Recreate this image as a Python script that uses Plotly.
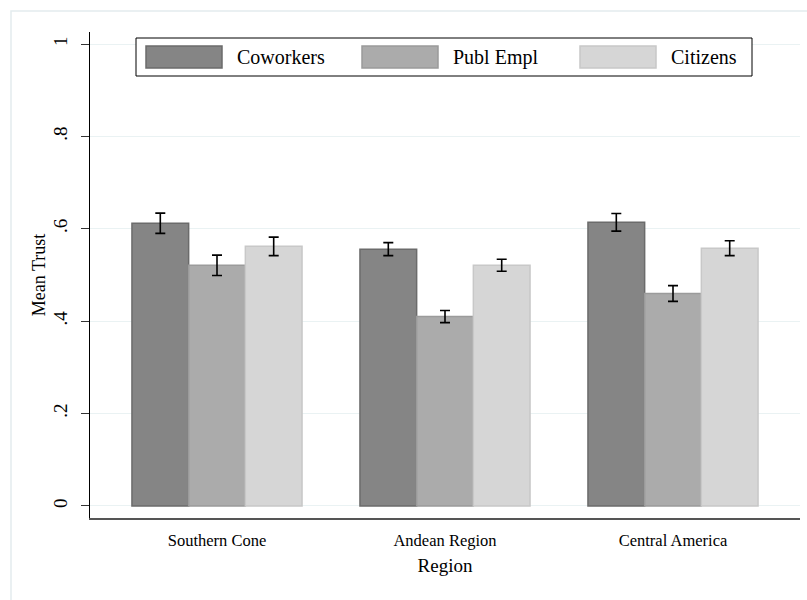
import plotly.graph_objects as go

regions = ["Southern Cone", "Andean Region", "Central America"]
series_names = ["Coworkers", "Publ Empl", "Citizens"]
means = {
    "Coworkers": [0.612, 0.556, 0.614],
    "Publ Empl": [0.521, 0.410, 0.460],
    "Citizens": [0.562, 0.521, 0.558],
}
ci_half = {
    "Coworkers": [0.022, 0.014, 0.019],
    "Publ Empl": [0.022, 0.013, 0.017],
    "Citizens": [0.020, 0.013, 0.016],
}
y_tickvals = [0, 0.2, 0.4, 0.6, 0.8, 1.0]
y_ticktext = ["0", ".2", ".4", ".6", ".8", "1"]

fills = {"Coworkers": "#858585", "Publ Empl": "#ababab", "Citizens": "#d6d6d6"}
edges = {"Coworkers": "#6b6b6b", "Publ Empl": "#9b9b9b", "Citizens": "#c8c8c8"}

W, H = 807, 600
L, R, T, B = 90, 7, 32, 82
FONT = "Liberation Serif"

def px_x(px):
    return (px - L) / (W - L - R)

def px_y(py):
    return (H - B - py) / (H - T - B)

fig = go.Figure()
for s in series_names:
    fig.add_trace(go.Bar(
        x=regions, y=means[s], name=s,
        marker=dict(color=fills[s], line=dict(color=edges[s], width=1.5)),
        error_y=dict(type="data", array=ci_half[s], color="black", thickness=1.6, width=5),
        showlegend=False,
    ))

# custom legend (Stata style)
shapes = []
annotations = []
shapes.append(dict(type="rect", xref="paper", yref="paper",
                   x0=px_x(136), x1=px_x(752), y0=px_y(76), y1=px_y(38),
                   line=dict(color="black", width=1), fillcolor="white", layer="above"))
sw_left = [146, 362, 580]
for i, s in enumerate(series_names):
    shapes.append(dict(type="rect", xref="paper", yref="paper",
                       x0=px_x(sw_left[i]), x1=px_x(sw_left[i] + 76),
                       y0=px_y(68), y1=px_y(46),
                       line=dict(color=edges[s], width=1.5), fillcolor=fills[s], layer="above"))
    annotations.append(dict(xref="paper", yref="paper", x=px_x(sw_left[i] + 89), y=px_y(57),
                            xanchor="left", yanchor="middle", text=s, showarrow=False,
                            font=dict(family=FONT, size=20, color="black")))

# outer graph-region frame
shapes.append(dict(type="rect", xref="paper", yref="paper",
                   x0=px_x(11), x1=px_x(W + 20), y0=px_y(H + 20), y1=px_y(11),
                   line=dict(color="#e3ecee", width=1.5), fillcolor="rgba(0,0,0,0)", layer="below"))

fig.update_layout(
    width=W, height=H,
    margin=dict(l=L, r=R, t=T, b=B),
    paper_bgcolor="white", plot_bgcolor="white",
    barmode="group", bargap=0.254, bargroupgap=0,
    font=dict(family=FONT, color="black"),
    shapes=shapes, annotations=annotations,
    xaxis=dict(
        range=[-0.557, 2.557], showgrid=False, ticks="", showline=True,
        linecolor="#555555", linewidth=2, ticklabelstandoff=6,
        tickfont=dict(family=FONT, size=16.5, color="black"),
        title=dict(text="Region", font=dict(family=FONT, size=19, color="black"), standoff=10),
    ),
    yaxis=dict(
        range=[-0.026, 1.026], tickvals=y_tickvals, ticktext=y_ticktext,
        tickangle=-90, ticks="outside", ticklen=8, tickcolor="#333333",
        showline=True, linecolor="black", linewidth=1, zeroline=False,
        showgrid=True, gridcolor="#eaf2f3", gridwidth=1, ticklabelstandoff=6,
        tickfont=dict(family=FONT, size=19, color="black"),
        title=dict(text="Mean Trust", font=dict(family=FONT, size=18, color="black"), standoff=0),
    ),
)

fig.write_html("out.html", config={"displayModeBar": False},
               post_script="document.body.style.margin='0';")
